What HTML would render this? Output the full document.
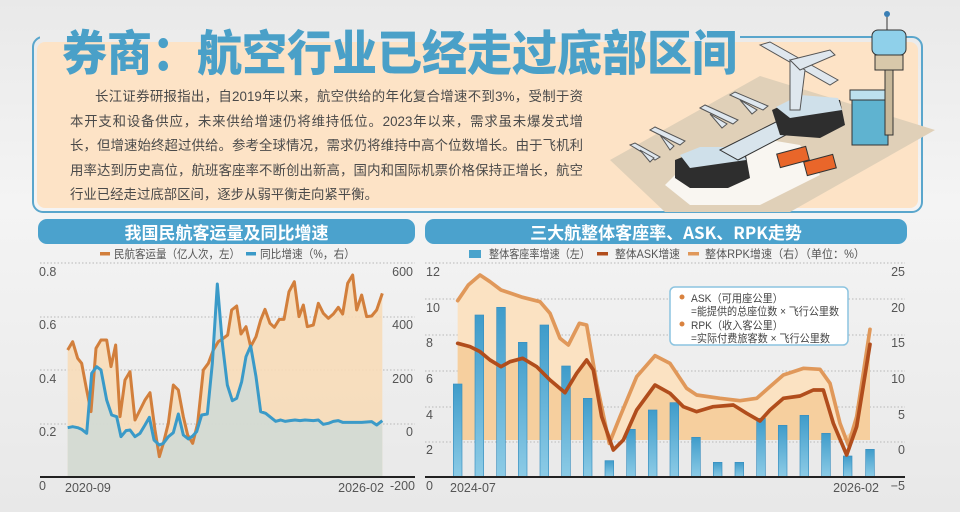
<!DOCTYPE html>
<html><head><meta charset="utf-8">
<style>
body{margin:0;width:960px;height:512px;overflow:hidden;background:#ececec;font-family:"Liberation Sans","Noto Sans CJK SC",sans-serif;}
#wrap{position:relative;width:960px;height:512px;background:linear-gradient(180deg,#e9e9e9,#f4f4f4 40%,#e8e8e8);}
.abs{position:absolute;}
.para{left:70px;top:85px;width:513px;font-size:13.4px;color:#4a4a4a;font-family:"Liberation Sans","Noto Sans CJK SC",sans-serif;}
.para div{height:24.5px;line-height:24.5px;text-align:justify;text-align-last:justify;white-space:nowrap;}
.para div.last{text-align-last:left;}
.hdr{height:25px;border-radius:9px;background:#4ba2cd;color:#fff;font-size:17px;font-weight:bold;text-align:center;line-height:25px;font-family:"Noto Sans CJK SC",sans-serif;}
</style></head><body><div id="wrap">
<svg class="abs" style="left:0;top:0" width="960" height="512" viewBox="0 0 960 512">
 <rect x="33" y="37" width="889" height="175" rx="10" fill="none" stroke="#5aa6cc" stroke-width="2"/>
 <rect x="37" y="42" width="881" height="166" rx="8" fill="#fde3c6"/>
 <rect x="40" y="30" width="700" height="12" fill="#ececec"/>
 <!-- airport -->
 <polygon points="610,160 760,76 935,130 790,212 665,212" fill="#e0d0b8"/>
 <polygon points="665,185 690,160 770,140 800,145 820,175 760,205 690,205" fill="#fff" opacity="0.8"/>
 <g>
  <polygon points="675,160 700,150 745,150 750,178 728,188 690,188 675,178" fill="#2e2e2e"/>
  <polygon points="680,155 700,147 742,147 746,160 690,168" fill="#cfe0ea"/>
  <polygon points="720,150 790,115 805,125 738,160" fill="#d8e4ec" stroke="#333" stroke-width="1"/>
  <polygon points="772,110 800,97 840,100 845,125 820,138 780,135" fill="#2e2e2e"/>
  <polygon points="776,107 800,95 838,98 842,110 790,118" fill="#cfe0ea"/>
  <rect x="852" y="95" width="36" height="50" fill="#5fb3d0" stroke="#333"/>
  <rect x="850" y="90" width="40" height="10" fill="#bde0ee" stroke="#333"/>
  <rect x="885" y="55" width="8" height="80" fill="#c8b89a" stroke="#333"/>
  <rect x="872" y="30" width="34" height="25" rx="6" fill="#8fd0ea" stroke="#333"/>
  <rect x="875" y="55" width="28" height="15" fill="#d8c8aa" stroke="#333"/>
  <line x1="887" y1="12" x2="887" y2="30" stroke="#333"/><circle cx="887" cy="14" r="3" fill="#3a7fb5"/>
  <rect x="778" y="150" width="30" height="14" fill="#e9662a" stroke="#333" transform="rotate(-15 793 157)"/>
  <rect x="805" y="158" width="30" height="14" fill="#e9662a" stroke="#333" transform="rotate(-15 820 165)"/>
  <g fill="#dfe7ee" stroke="#555" stroke-width="1">
   <polygon points="760,45 830,85 838,80 770,42"/>
   <polygon points="790,60 790,110 800,110 805,70"/>
   <polygon points="790,60 830,50 835,55 800,70"/>
   <polygon points="630,145 655,160 660,157 635,143"/><polygon points="640,150 650,162 654,158"/>
   <polygon points="650,130 680,145 685,141 655,127"/><polygon points="660,135 670,150 674,146"/>
   <polygon points="700,108 733,124 738,120 705,105"/><polygon points="710,114 722,128 727,124"/>
   <polygon points="730,95 763,110 768,106 735,92"/><polygon points="740,100 752,114 757,110"/>
  </g>
 </g>
 <text x="62" y="70" font-size="48" font-weight="900" fill="#4aa0c8" font-family="Noto Sans CJK SC, sans-serif" textLength="675" lengthAdjust="spacingAndGlyphs">券商：航空行业已经走过底部区间</text>

 <!-- LEFT CHART -->
 <g stroke="#b8b8b8" stroke-width="1" stroke-dasharray="1.5,2">
  <line x1="40" y1="263" x2="415" y2="263"/><line x1="40" y1="317" x2="415" y2="317"/>
  <line x1="40" y1="370" x2="415" y2="370"/><line x1="40" y1="424" x2="415" y2="424"/>
 </g>
 <g transform="translate(0,210) scale(0.33333)">
  <polygon fill="#f7dcb8" opacity="0.9" points="203,800 203,420 218,395 233,445 245,460 260,540 273,605 288,415 303,390 320,390 333,470 347,405 360,620 375,510 390,485 405,630 420,600 435,570 450,548 465,660 478,740 490,700 505,640 520,525 535,540 550,620 563,675 578,700 593,640 610,480 625,460 640,420 655,395 670,385 683,375 695,300 710,288 723,372 738,350 752,410 768,380 782,330 795,298 810,340 823,352 838,328 852,328 867,245 883,215 897,320 910,285 922,350 940,345 955,280 970,310 985,325 1000,312 1015,292 1028,312 1043,220 1058,195 1070,300 1085,255 1100,320 1115,318 1130,300 1147,250 1147,800"/>
  <polygon fill="#c9dadb" opacity="0.75" points="203,800 203,653 218,650 233,653 245,658 260,670 275,490 290,470 303,480 320,570 335,615 350,620 363,680 378,662 390,660 405,680 420,670 435,645 448,622 462,690 478,705 490,700 505,680 520,668 535,612 550,675 565,687 578,678 590,665 605,615 622,612 637,460 652,222 667,400 682,525 697,572 710,565 725,515 738,440 752,408 768,500 782,605 797,610 812,622 827,634 842,630 855,634 870,632 885,630 900,632 915,630 940,632 955,630 970,643 985,640 1000,634 1015,632 1028,637 1058,637 1085,637 1115,635 1130,645 1147,632 1147,800"/>
  <polyline fill="none" stroke="#d27f3c" stroke-width="9" stroke-linejoin="round" points="203,420 218,395 233,445 245,460 260,540 273,605 288,415 303,390 320,390 333,470 347,405 360,620 375,510 390,485 405,630 420,600 435,570 450,548 465,660 478,740 490,700 505,640 520,525 535,540 550,620 563,675 578,700 593,640 610,480 625,460 640,420 655,395 670,385 683,375 695,300 710,288 723,372 738,350 752,410 768,380 782,330 795,298 810,340 823,352 838,328 852,328 867,245 883,215 897,320 910,285 922,350 940,345 955,280 970,310 985,325 1000,312 1015,292 1028,312 1043,220 1058,195 1070,300 1085,255 1100,320 1115,318 1130,300 1147,250"/>
  <polyline fill="none" stroke="#3a9ac8" stroke-width="9" stroke-linejoin="round" points="203,653 218,650 233,653 245,658 260,670 275,490 290,470 303,480 320,570 335,615 350,620 363,680 378,662 390,660 405,680 420,670 435,645 448,622 462,690 478,705 490,700 505,680 520,668 535,612 550,675 565,687 578,678 590,665 605,615 622,612 637,460 652,222 667,400 682,525 697,572 710,565 725,515 738,440 752,408 768,500 782,605 797,610 812,622 827,634 842,630 855,634 870,632 885,630 900,632 915,630 940,632 955,630 970,643 985,640 1000,634 1015,632 1028,637 1058,637 1085,637 1115,635 1130,645 1147,632"/>
 </g>
 <line x1="40" y1="477" x2="415" y2="477" stroke="#222" stroke-width="2"/>
 <g font-size="12.5" fill="#555" font-family="Liberation Sans, sans-serif">
  <text x="39" y="276">0.8</text><text x="39" y="329">0.6</text><text x="39" y="383">0.4</text><text x="39" y="436">0.2</text><text x="39" y="490">0</text>
  <text x="413" y="276" text-anchor="end">600</text><text x="413" y="329" text-anchor="end">400</text><text x="413" y="383" text-anchor="end">200</text><text x="413" y="436" text-anchor="end">0</text><text x="415" y="490" text-anchor="end">-200</text>
  <text x="65" y="492">2020-09</text><text x="384" y="492" text-anchor="end">2026-02</text>
 </g>
 <rect x="100" y="252" width="10" height="3.5" fill="#d27f3c"/>
 <rect x="246" y="252" width="10" height="3.5" fill="#3a9ac8"/>
 <g font-size="11.5" fill="#555" font-family="Liberation Sans, Noto Sans CJK SC, sans-serif">
  <text x="114" y="258" textLength="126" lengthAdjust="spacingAndGlyphs">民航客运量（亿人次，左）</text>
  <text x="260" y="258" textLength="95" lengthAdjust="spacingAndGlyphs">同比增速（%，右）</text>
 </g>

 <!-- RIGHT CHART -->
 <g stroke="#b8b8b8" stroke-width="1" stroke-dasharray="1.5,2">
  <line x1="425" y1="263" x2="905" y2="263"/><line x1="425" y1="299" x2="905" y2="299"/>
  <line x1="425" y1="335" x2="905" y2="335"/><line x1="425" y1="371" x2="905" y2="371"/>
  <line x1="425" y1="407" x2="905" y2="407"/><line x1="425" y1="442" x2="905" y2="442"/>
 </g>
 <defs><linearGradient id="bg" x1="0" y1="0" x2="0" y2="1"><stop offset="0" stop-color="#3f9cca"/><stop offset="1" stop-color="#8ccbe6"/></linearGradient></defs>
 <g transform="translate(420,210) scale(0.33333)">
  <polygon fill="#fbe2c2" points="113,690 113,272 145,225 180,195 210,215 243,240 308,262 360,275 390,310 420,385 445,405 478,340 500,345 530,520 568,700 600,620 650,500 705,437 750,460 800,535 830,555 900,565 960,572 1010,565 1050,530 1090,495 1150,475 1200,478 1230,520 1260,640 1285,705 1310,620 1350,358 1350,690"/>
  <polygon fill="#f4cb98" opacity="0.85" points="113,690 113,400 150,410 180,425 210,450 243,470 270,455 308,445 350,470 390,510 435,548 470,490 500,450 520,480 545,620 580,690 610,690 650,600 705,525 750,550 790,590 830,605 880,590 940,585 980,610 1020,633 1050,600 1090,565 1140,558 1180,540 1210,540 1240,640 1265,690 1310,650 1350,403 1350,690"/>
  <g fill="url(#bg)" stroke="#3a8fbf" stroke-width="2">
   <rect x="100" y="522" width="26" height="278"/><rect x="165" y="315" width="26" height="485"/><rect x="230" y="292" width="26" height="508"/>
   <rect x="295" y="397" width="26" height="403"/><rect x="360" y="345" width="26" height="455"/><rect x="425" y="468" width="26" height="332"/>
   <rect x="490" y="565" width="26" height="235"/><rect x="555" y="752" width="26" height="48"/><rect x="620" y="658" width="26" height="142"/>
   <rect x="685" y="600" width="26" height="200"/><rect x="750" y="578" width="26" height="222"/><rect x="815" y="682" width="26" height="118"/>
   <rect x="880" y="757" width="26" height="43"/><rect x="945" y="757" width="26" height="43"/><rect x="1010" y="625" width="26" height="175"/>
   <rect x="1075" y="646" width="26" height="154"/><rect x="1140" y="616" width="26" height="184"/><rect x="1205" y="670" width="26" height="130"/>
   <rect x="1270" y="738" width="26" height="62"/><rect x="1337" y="718" width="26" height="82"/>
  </g>
  <polyline fill="none" stroke="#e0985a" stroke-width="11" stroke-linejoin="round" stroke-linecap="round" points="113,272 145,225 180,195 210,215 243,240 308,262 360,275 390,310 420,385 445,405 478,340 500,345 530,520 568,700 600,620 650,500 705,437 750,460 800,535 830,555 900,565 960,572 1010,565 1050,530 1090,495 1150,475 1200,478 1230,520 1260,640 1285,705 1310,620 1350,358"/>
  <polyline fill="none" stroke="#b14d1c" stroke-width="11" stroke-linejoin="round" stroke-linecap="round" points="113,400 150,410 180,425 210,450 243,470 270,455 308,445 350,470 390,510 435,548 470,490 500,450 520,480 545,620 580,720 610,690 650,600 705,525 750,550 790,590 830,605 880,590 940,585 980,610 1020,633 1050,600 1090,565 1140,558 1180,540 1210,540 1240,640 1280,735 1310,650 1350,403"/>
 </g>
 <line x1="425" y1="477" x2="905" y2="477" stroke="#222" stroke-width="2"/>
 <rect x="670" y="287" width="178" height="58" rx="5" fill="#fff" stroke="#8cc4e0" stroke-width="1.5"/>
 <circle cx="682" cy="297" r="2.5" fill="#d9823f"/><circle cx="682" cy="324" r="2.5" fill="#d9823f"/>
 <g font-size="11" fill="#444" font-family="Liberation Sans, Noto Sans CJK SC, sans-serif">
  <text x="691" y="302" textLength="92" lengthAdjust="spacingAndGlyphs">ASK（可用座公里）</text>
  <text x="691" y="315" textLength="148" lengthAdjust="spacingAndGlyphs">=能提供的总座位数 × 飞行公里数</text>
  <text x="691" y="329" textLength="92" lengthAdjust="spacingAndGlyphs">RPK（收入客公里）</text>
  <text x="691" y="342" textLength="139" lengthAdjust="spacingAndGlyphs">=实际付费旅客数 × 飞行公里数</text>
 </g>
 <g font-size="12.5" fill="#555" font-family="Liberation Sans, sans-serif">
  <text x="426" y="276">12</text><text x="426" y="312">10</text><text x="426" y="347">8</text><text x="426" y="383">6</text><text x="426" y="419">4</text><text x="426" y="454">2</text><text x="426" y="490">0</text>
  <text x="905" y="276" text-anchor="end">25</text><text x="905" y="312" text-anchor="end">20</text><text x="905" y="347" text-anchor="end">15</text><text x="905" y="383" text-anchor="end">10</text><text x="905" y="419" text-anchor="end">5</text><text x="905" y="454" text-anchor="end">0</text><text x="905" y="490" text-anchor="end">−5</text>
  <text x="450" y="492">2024-07</text><text x="879" y="492" text-anchor="end">2026-02</text>
 </g>
 <rect x="469" y="250" width="12" height="8" fill="#4aa3cc"/>
 <rect x="597" y="252" width="11" height="3.5" fill="#b14d1c"/>
 <rect x="688" y="252" width="11" height="3.5" fill="#e0985a"/>
 <g font-size="11.5" fill="#555" font-family="Liberation Sans, Noto Sans CJK SC, sans-serif">
  <text x="489" y="258" textLength="101" lengthAdjust="spacingAndGlyphs">整体客座率增速（左）</text>
  <text x="615" y="258" textLength="65" lengthAdjust="spacingAndGlyphs">整体ASK增速</text>
  <text x="705" y="258" textLength="160" lengthAdjust="spacingAndGlyphs">整体RPK增速（右）（单位：%）</text>
 </g>
</svg>
<div class="abs para">
 <div style="padding-left:25px">长江证券研报指出，自2019年以来，航空供给的年化复合增速不到3%，受制于资</div>
 <div>本开支和设备供应，未来供给增速仍将维持低位。2023年以来，需求虽未爆发式增</div>
 <div>长，但增速始终超过供给。参考全球情况，需求仍将维持中高个位数增长。由于飞机利</div>
 <div>用率达到历史高位，航班客座率不断创出新高，国内和国际机票价格保持正增长，航空</div>
 <div class="last">行业已经走过底部区间，逐步从弱平衡走向紧平衡。</div>
</div>
<div class="abs hdr" style="left:38px;top:219px;width:377px;">我国民航客运量及同比增速</div>
<div class="abs hdr" style="left:425px;top:219px;width:482px;">三大航整体客座率、ASK、RPK走势</div>
</div></body></html>
